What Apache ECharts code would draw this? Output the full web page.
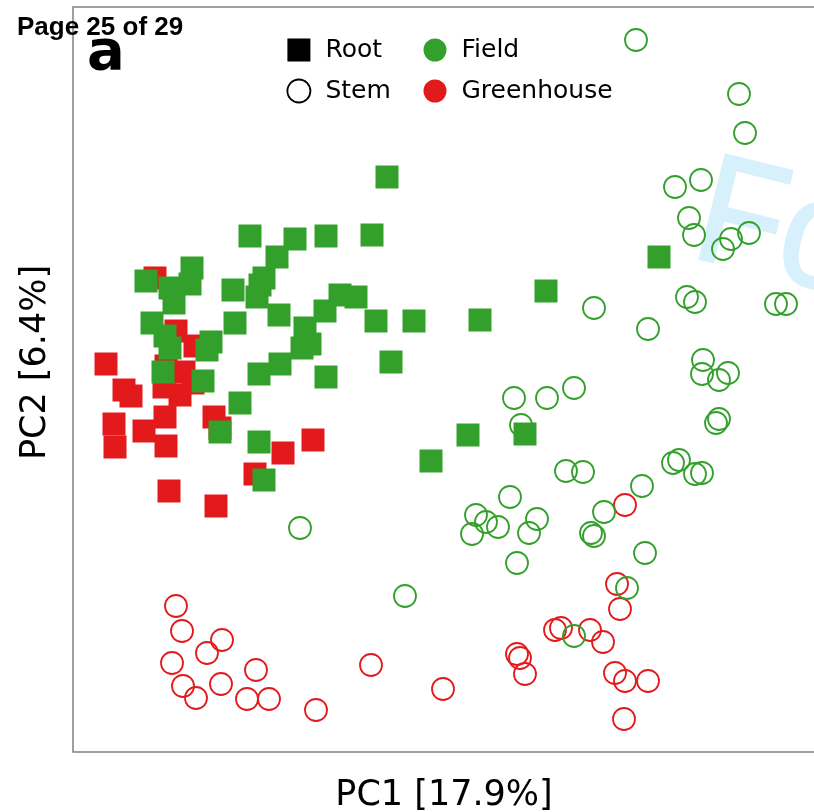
<!DOCTYPE html>
<html>
<head>
<meta charset="utf-8">
<script src="https://cdn.jsdelivr.net/npm/echarts@6/dist/echarts.min.js"></script>
<style>html,body{margin:0;padding:0;background:#fff}#c{width:814px;height:812px}</style>
</head>
<body>
<div id="c"></div>
<script>
// PCA scores (arbitrary units: PC1 0..742, PC2 0..745)
const rootField = [[177,516],[222,513],[253,516],[204,495],[119,484],[73,471],[117,468],[97,464],[101,449],[160,462],[191,474],[187,467],[184,455],[79,429],[92,416],[97,404],[162,429],[206,437],[267,457],[283,455],[252,441],[232,424],[237,408],[229,404],[138,410],[134,402],[90,380],[130,371],[186,378],[207,388],[253,375],[167,349],[147,320],[186,310],[191,272],[314,575],[299,517],[303,431],[341,431],[407,432],[473,461],[318,390],[395,317],[452,318],[358,291],[586,495]];
const rootGreenhouse = [[82,474],[103,421],[122,406],[33,388],[51,362],[58,356],[93,386],[111,380],[91,365],[107,357],[120,369],[92,335],[41,328],[42,305],[71,321],[93,306],[141,335],[147,324],[210,299],[240,312],[182,278],[96,261],[143,246]];
const stemField = [[563,712],[666,658],[672,619],[602,565],[628,572],[616,534],[621,517],[650,503],[658,513],[676,519],[614,455],[622,450],[703,448],[713,448],[575,423],[521,444],[630,392],[629,378],[655,379],[646,372],[646,333],[643,329],[600,289],[606,292],[622,278],[629,279],[569,266],[441,354],[474,354],[501,364],[448,327],[493,281],[510,280],[437,255],[403,237],[413,230],[425,225],[399,218],[464,233],[456,219],[444,189],[531,240],[518,219],[521,216],[572,199],[554,164],[501,116],[227,224],[332,156]];
const stemGreenhouse = [[552,247],[544,168],[547,143],[482,122],[488,124],[517,122],[530,110],[444,98],[447,94],[452,78],[542,79],[552,71],[575,71],[551,33],[370,63],[103,146],[109,121],[149,112],[134,99],[99,89],[183,82],[110,66],[148,68],[123,54],[174,53],[196,53],[243,42],[298,87]];
const legendTissue = ['Root', 'Stem'];
const legendSite = ['Field', 'Greenhouse'];
const axisNames = ['PC1 [17.9%]', 'PC2 [6.4%]'];

const GREEN = '#33a02c', RED = '#e31a1c';
const chart = echarts.init(document.getElementById('c'), null, {renderer: 'canvas'});

function squares(name, data, color) {
  return {type: 'scatter', name, data, symbol: 'rect', symbolSize: 23,
    itemStyle: {color, opacity: 1}, emphasis: {disabled: true}, silent: true};
}
function rings(name, data, color) {
  return {type: 'scatter', name, data, symbol: 'circle', symbolSize: 22,
    itemStyle: {color: 'rgba(0,0,0,0)', borderColor: color, borderWidth: 1.8, opacity: 1},
    emphasis: {disabled: true}, silent: true};
}
const dummy = (name) => ({type: 'scatter', name, data: [], itemStyle: {opacity: 1}});

const legText = {fontFamily: 'DejaVu Sans', fontSize: 25, color: '#000', lineHeight: 23, padding: [0, 0, 0, 10]};

chart.setOption({
  animation: false,
  backgroundColor: '#fff',
  grid: {left: 73, top: 7, right: -1, bottom: 60, show: true, borderColor: '#808080', borderWidth: 1.5,
    backgroundColor: 'transparent', containLabel: false, outerBoundsMode: 'none'},
  xAxis: {type: 'value', min: 0, max: 742, name: axisNames[0], nameLocation: 'middle', nameGap: 26,
    nameTextStyle: {fontFamily: 'DejaVu Sans', fontSize: 35, color: '#000'},
    axisLine: {show: false}, axisTick: {show: false}, axisLabel: {show: false}, splitLine: {show: false}},
  yAxis: {type: 'value', min: 0, max: 745, name: axisNames[1], nameLocation: 'middle', nameGap: 20,
    nameTextStyle: {fontFamily: 'DejaVu Sans', fontSize: 35, color: '#000', padding: [0, 0, 0, 34]},
    axisLine: {show: false}, axisTick: {show: false}, axisLabel: {show: false}, splitLine: {show: false}},
  legend: [
    {orient: 'vertical', left: 286.5, top: 37.5, padding: 0, itemWidth: 23, itemHeight: 23, itemGap: 16, selectedMode: false,
      textStyle: legText,
      data: [
        {name: legendTissue[0], icon: 'rect', itemStyle: {color: '#000', borderWidth: 0, opacity: 1}},
        {name: legendTissue[1], icon: 'circle', itemStyle: {color: '#fff', borderColor: '#000', borderWidth: 1.8, opacity: 1}}
      ]},
    {orient: 'vertical', left: 423.5, top: 37.5, padding: 0, itemWidth: 23, itemHeight: 23, itemGap: 16, selectedMode: false,
      textStyle: legText,
      data: [
        {name: legendSite[0], icon: 'circle', itemStyle: {color: GREEN, borderWidth: 0, opacity: 1}},
        {name: legendSite[1], icon: 'circle', itemStyle: {color: RED, borderWidth: 0, opacity: 1}}
      ]}
  ],
  graphic: [
    {type: 'text', x: 718, y: 139, rotation: -14 * Math.PI / 180, scaleX: 0.9, z: -10, silent: true,
      style: {text: 'For Peer Review', font: '155px "Liberation Sans"', fill: '#d6f0fc', stroke: '#d6f0fc', lineWidth: 3, textAlign: 'left', textVerticalAlign: 'top'}},
    {type: 'text', x: 87, y: 54, z: 100, silent: true,
      style: {text: 'a', font: 'bold 56px "DejaVu Sans"', fill: '#000', textAlign: 'left', textVerticalAlign: 'middle'}},
    {type: 'text', x: 17, y: 28, z: 101, silent: true,
      style: {text: 'Page 25 of 29', font: 'bold 26px "Liberation Sans"', fill: '#000', textAlign: 'left', textVerticalAlign: 'middle'}}
  ],
  series: [
    squares('Root · Greenhouse', rootGreenhouse, RED),
    rings('Stem · Greenhouse', stemGreenhouse, RED),
    squares('Root · Field', rootField, GREEN),
    rings('Stem · Field', stemField, GREEN),
    dummy(legendTissue[0]), dummy(legendTissue[1]), dummy(legendSite[0]), dummy(legendSite[1])
  ]
});
</script>
</body>
</html>
